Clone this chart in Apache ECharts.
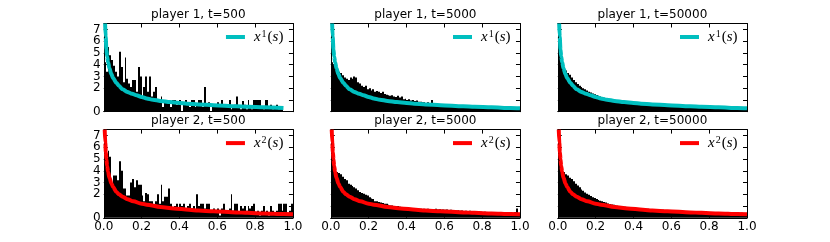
<!DOCTYPE html>
<html><head><meta charset="utf-8">
<script src="https://cdn.jsdelivr.net/npm/echarts@6/dist/echarts.min.js"></script>
<style>html,body{margin:0;padding:0;background:#fff}#c{width:830px;height:242px}</style>
</head><body><div id="c"></div>
<script>
// ---------- data ----------
const binWidth = 0.01;
const titles = ['player 1, t=500','player 1, t=5000','player 1, t=50000',
                'player 2, t=500','player 2, t=5000','player 2, t=50000'];
const xTickLabels = ['0.0','0.2','0.4','0.6','0.8','1.0'];
const yTickLabels = ['0','1','2','3','4','5','6','7'];

// histogram densities (bin width 0.01)
const histP1T500 = [4.2,3.4,5.5,4.8,4.4,3.9,3.4,3.0,5.1,3.8, 2.5,4.6,2.8,2.4,2.1,2.7,2.7,1.7,3.8,3.0,
  1.3,2.1,3.0,1.7,3.0,1.3,1.7,2.1,1.0,0.8, 1.3,0.4,0.8,1.0,1.0,0.4,1.0,1.0,0.6,0.8,
  1.0,0.0,0.8,1.0,0.6,0.4,1.0,1.0,0.4,0.6, 1.0,1.0,0.4,2.1,0.6,0.8,0.0,0.4,0.6,0.4,
  0.8,0.6,1.0,0.4,0.6,0.4,1.0,0.2,0.4,0.6, 1.3,0.4,0.2,0.9,0.6,0.2,1.0,0.4,0.2,1.0,
  1.0,1.0,1.0,0.4,0.2,1.0,1.0,0.4,0.6,0.2, 0.4,0.6,0.2,0.4,0.4];
const histP1T5000 = [4.2,4.0,3.9,3.6,3.4,3.3,3.1,2.9,2.8,2.7, 2.9,2.8,3.0,2.9,2.5,2.4,2.2,2.1,2.2,1.9,
  2.0,1.8,1.9,1.7,1.75,1.7,1.6,1.7,1.5,1.45, 1.4,1.35,1.4,1.3,1.25,1.35,1.2,1.3,1.05,1.1,
  1.0,1.05,0.95,1.0,0.9,0.95,0.85,0.85,0.8,0.8, 0.75,0.8,0.72,1.0,0.7,0.65,0.62,0.6,0.65,0.58,
  0.6,0.55,0.58,0.52,0.55,0.5,0.52,0.48,0.5,0.47, 0.45,0.47,0.44,0.42,0.44,0.41,0.4,0.42,0.39,0.38,
  0.4,0.37,0.36,0.38,0.35,0.34,0.36,0.33,0.34,0.32, 0.31,0.33,0.3,0.31,0.29,0.3,0.28,0.3,0.27,0.28];
const histP1T50000 = [5.5,4.6,4.1,3.8,3.5,3.3,3.15,2.9,2.7,2.5, 2.35,2.2,2.1,2.0,1.9,1.8,1.7,1.63,1.55,1.48,
  1.42,1.35,1.3,1.24,1.18,1.12,1.07,1.03,0.99,0.95, 0.92,0.89,0.86,0.84,0.81,0.79,0.77,0.75,0.73,0.71,
  0.7,0.68,0.66,0.65,0.63,0.62,0.61,0.6,0.58,0.57, 0.56,0.55,0.54,0.53,0.52,0.51,0.5,0.49,0.48,0.48,
  0.47,0.46,0.45,0.45,0.44,0.43,0.42,0.42,0.41,0.4, 0.4,0.39,0.38,0.38,0.37,0.37,0.36,0.35,0.35,0.34,
  0.34,0.33,0.33,0.32,0.32,0.31,0.31,0.3,0.3,0.3, 0.29,0.29,0.28,0.28,0.28,0.27,0.27,0.27,0.26,0.26];
const histP2T500 = [5.3,4.0,5.7,5.2,2.9,3.6,3.6,3.2,4.8,4.0, 2.5,2.5,1.9,1.9,3.0,3.3,2.6,3.2,2.8,2.8,
  1.9,1.4,2.1,2.0,1.4,1.4,1.0,1.4,2.0,1.2, 2.8,1.4,1.8,1.8,2.5,1.2,0.8,1.0,1.2,0.8,
  1.2,1.0,1.2,0.6,1.0,1.2,0.8,1.0,0.6,2.0, 1.0,1.2,1.2,0.8,1.2,1.2,0.6,0.4,0.8,0.6,
  0.8,0.2,0.8,1.2,0.6,0.4,0.8,2.0,0.6,1.2, 1.2,0.4,1.0,0.8,1.0,0.6,1.0,0.8,1.0,1.2,
  0.4,0.6,0.2,0.6,1.0,0.4,0.6,0.2,1.0,0.6, 0.4,0.6,1.2,1.2,0.6,1.2,1.2,0.4,0.6,1.2];
const histP2T5000 = [5.0,4.6,4.3,3.9,3.8,3.7,3.5,3.3,3.2,2.9, 2.8,2.7,2.6,2.5,2.35,2.2,2.1,2.05,1.95,1.9,
  1.75,1.65,1.6,1.4,1.4,1.35,1.3,1.25,1.2,1.2, 1.1,1.05,1.05,1.0,0.95,1.0,0.95,0.9,0.85,0.85,
  0.85,0.82,0.8,0.83,0.78,0.8,0.76,0.78,0.75,0.77, 0.74,0.76,0.73,0.75,0.72,0.78,0.7,0.72,0.69,0.71,
  0.68,0.7,0.66,0.68,0.65,0.63,0.62,0.64,0.6,0.62, 0.58,0.6,0.57,0.59,0.56,0.55,0.57,0.53,0.55,0.52,
  0.5,0.52,0.48,0.47,0.45,0.46,0.43,0.44,0.42,0.4, 0.42,0.39,0.4,0.37,0.38,0.36,0.37,0.5,0.8,0.4];
const histP2T50000 = [5.5,4.8,4.2,3.9,3.7,3.6,3.4,3.3,3.1,2.9, 2.75,2.6,2.4,2.3,2.15,2.05,1.95,1.85,1.75,1.68,
  1.6,1.52,1.46,1.4,1.35,1.3,1.22,1.17,1.13,1.1, 1.06,1.03,1.0,0.98,0.96,0.94,0.92,0.9,0.88,0.86,
  0.85,0.83,0.82,0.8,0.79,0.78,0.77,0.76,0.75,0.74, 0.73,0.72,0.71,0.7,0.69,0.68,0.67,0.66,0.65,0.64,
  0.63,0.62,0.61,0.6,0.6,0.59,0.58,0.57,0.56,0.56, 0.55,0.54,0.53,0.52,0.52,0.51,0.5,0.5,0.49,0.48,
  0.47,0.47,0.46,0.45,0.46,0.48,0.5,0.47,0.45,0.44, 0.43,0.42,0.42,0.41,0.41,0.4,0.4,0.42,0.4,0.39];

// theoretical densities x^1(s), x^2(s)
const curve1S = [0.007,0.01,0.014,0.018,0.023,0.03,0.04,0.05,0.067,0.08,0.1,0.125,0.15,0.173,0.2,0.227,0.26,0.3,0.35,0.4,0.44,0.5,0.58,0.7,0.76,0.85,0.95,1.0];
const curve1Y = [7.5,6.4,5.3,4.7,4.2,3.7,3.2,2.85,2.45,2.2,1.9,1.68,1.52,1.4,1.25,1.13,1.02,0.92,0.82,0.74,0.68,0.62,0.55,0.46,0.42,0.37,0.32,0.3];
const curve2S = [0.005,0.008,0.011,0.014,0.018,0.023,0.03,0.041,0.05,0.067,0.08,0.1,0.125,0.156,0.2,0.227,0.3,0.37,0.45,0.5,0.58,0.7,0.76,0.85,0.95,1.0];
const curve2Y = [7.5,6.4,5.6,5.0,4.4,3.9,3.4,2.9,2.6,2.2,2.0,1.8,1.58,1.4,1.2,1.12,0.92,0.8,0.68,0.62,0.55,0.46,0.42,0.37,0.32,0.31];

// ---------- layout ----------
const colLeft = [103.75, 330.78, 557.81];
const rowTop = [23.5, 129.6];
const W = 189.19, H = 88.2;
const FONT = 'DejaVu Sans';

const panels = [
  {hist: histP1T500,   curve: 1, sMax: 0.95},
  {hist: histP1T5000,  curve: 1, sMax: 1.0},
  {hist: histP1T50000, curve: 1, sMax: 1.0},
  {hist: histP2T500,   curve: 2, sMax: 1.0},
  {hist: histP2T5000,  curve: 2, sMax: 1.0},
  {hist: histP2T50000, curve: 2, sMax: 1.0}
];

const grid = [], xAxis = [], yAxis = [], series = [], legend = [];
const tick = {show: true, inside: true, length: 4, lineStyle: {color: '#000', width: 1}};
const line = {show: true, onZero: false, lineStyle: {color: '#000', width: 1}};

panels.forEach((p, i) => {
  const r = Math.floor(i / 3), c = i % 3;
  grid.push({left: colLeft[c], top: rowTop[r], width: W, height: H, containLabel: false, outerBoundsMode: 'none', show: false});
  const xBase = {gridIndex: i, type: 'value', min: 0, max: 1, interval: 0.2,
    axisLine: line, axisTick: tick, splitLine: {show: false}};
  xAxis.push(Object.assign({}, xBase, {position: 'bottom',
    axisLabel: {show: r === 1, margin: 3, color: '#000', fontFamily: FONT, fontSize: 12,
      showMinLabel: true, showMaxLabel: true, hideOverlap: false,
      formatter: v => xTickLabels[Math.round(v / 0.2)] || ''}}));
  xAxis.push(Object.assign({}, xBase, {position: 'top', axisLabel: {show: false},
    name: titles[i], nameLocation: 'middle', nameGap: 3, nameMoveOverlap: false,
    nameTextStyle: {color: '#000', fontFamily: FONT, fontSize: 12, verticalAlign: 'bottom'}}));
  const yBase = {gridIndex: i, type: 'value', min: 0, max: 7.5, interval: 1,
    axisLine: line, axisTick: tick, splitLine: {show: false}};
  yAxis.push(Object.assign({}, yBase, {position: 'left',
    axisLabel: {show: c === 0, margin: 3, color: '#000', fontFamily: FONT, fontSize: 12,
      showMinLabel: true, showMaxLabel: false, hideOverlap: false,
      formatter: v => Number.isInteger(v) ? (yTickLabels[v] || '') : ''}}));
  yAxis.push(Object.assign({}, yBase, {position: 'right', axisLabel: {show: false}}));

  // histogram bars: [left edge, right edge, density]
  series.push({
    type: 'custom', xAxisIndex: 2 * i, yAxisIndex: 2 * i, silent: true, z: 2,
    data: p.hist.map((h, k) => [k * binWidth, (k + 1) * binWidth, h]),
    encode: {x: [0, 1], y: 2},
    renderItem: (params, api) => {
      const a = api.coord([api.value(0), api.value(2)]);
      const b = api.coord([api.value(1), 0]);
      const x0 = Math.round(a[0]), x1 = Math.round(b[0]);
      return {type: 'rect', shape: {x: x0, y: a[1], width: Math.max(x1 - x0, 1), height: b[1] - a[1]},
        style: {fill: '#000'}};
    }
  });
  const S = p.curve === 1 ? curve1S : curve2S;
  const Y = p.curve === 1 ? curve1Y : curve2Y;
  const col = p.curve === 1 ? '#00bfbf' : '#ff0000';
  const name = p.curve === 1 ? 'x1' : 'x2';
  const pts = [];
  S.forEach((s, k) => { if (s <= p.sMax + 1e-9) pts.push([s, Y[k]]); });
  series.push({
    type: 'line', name: name, xAxisIndex: 2 * i, yAxisIndex: 2 * i, data: pts,
    showSymbol: false, symbol: 'none', smooth: 0.3, smoothMonotone: 'x', silent: true, z: 3,
    lineStyle: {color: col, width: 4}, itemStyle: {color: col}
  });
  legend.push({
    data: [{name: name, icon: 'rect'}], selectedMode: false, padding: 0,
    right: 830 - (colLeft[c] + W) + 9.5, top: rowTop[r] + 5.5,
    itemWidth: 19, itemHeight: 4, itemGap: 0,
    formatter: () => '{g|x}{s|' + p.curve + '}{r|(}{i|s}{r|)}',
    textStyle: {color: '#000', rich: {
      g: {fontFamily: 'Liberation Serif', fontStyle: 'italic', fontSize: 15, lineHeight: 16, padding: [0, 0, 0, 4]},
      i: {fontFamily: 'Liberation Serif', fontStyle: 'italic', fontSize: 15, lineHeight: 16},
      r: {fontFamily: 'Liberation Serif', fontSize: 15, lineHeight: 16},
      s: {fontFamily: 'Liberation Serif', fontSize: 10, lineHeight: 10, verticalAlign: 'top', padding: [0, 1, 0, 1]}
    }}
  });
});

const chart = echarts.init(document.getElementById('c'), null, {renderer: 'canvas'});
chart.setOption({backgroundColor: '#fff', animation: false, grid, xAxis, yAxis, series, legend});
</script></body></html>
